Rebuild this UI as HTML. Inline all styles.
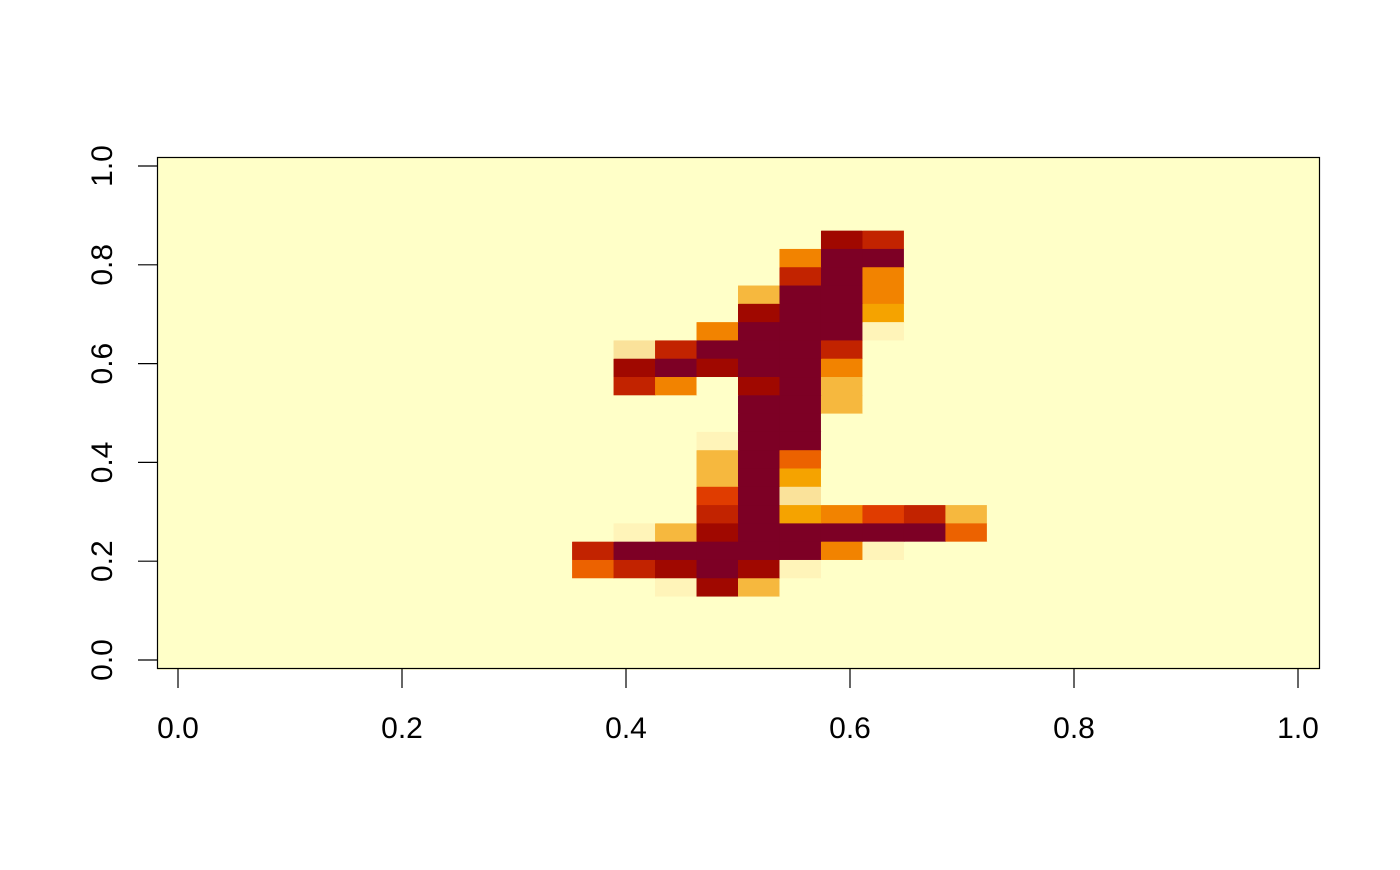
<!DOCTYPE html>
<html><head><meta charset="utf-8"><style>
body{margin:0;background:#fff}
text{font-family:"Liberation Sans",sans-serif;font-size:30px;fill:#000}
</style></head><body>
<svg id="chart" width="1400" height="865" xmlns="http://www.w3.org/2000/svg">
<rect width="1400" height="865" fill="#fff"/>
<g id="cells"></g>
<g id="axes"></g>
</svg>
<script>
// levels a..k -> palette
const palette = {a:"#FFFFC8",b:"#FFF4B9",c:"#FAE29A",d:"#F6B83E",e:"#F5A300",f:"#F28300",g:"#EC6200",h:"#E03C00",i:"#C22300",j:"#A00800",k:"#7D0025"};
const gridSize = 28;
// non-background runs: row index from bottom, starting column, level codes
const rowIndex = [23,22,21,20,19,18,17,16,15,14,13,12,11,10,9,8,7,6,5,4];
const startCol = [16,15,15,14,14,13,11,11,11,14,14,13,13,13,13,13,11,10,10,12];
const rowLevels = ["ji","fkk","ikf","dkkf","jkke","fkkkb","cikkki","jkjkkf","ifajkd","kkd","kk","bkk","dkg","dke","hkc","ikefhid","bdjkkkkkg","ikkkkkfb","gijkjb","bjd"];
const xTicks = [0,0.2,0.4,0.6,0.8,1.0];
const yTicks = [0,0.2,0.4,0.6,0.8,1.0];
const xTickLabels = ["0.0","0.2","0.4","0.6","0.8","1.0"];
const yTickLabels = ["0.0","0.2","0.4","0.6","0.8","1.0"];

const NS="http://www.w3.org/2000/svg";
const X0=178,X1=1298,Y0=660,Y1=166;
const xs=v=>X0+(X1-X0)*v;
const ys=v=>Y0+(Y1-Y0)*v;
const step=1/(gridSize-1);
const cells=document.getElementById('cells');
const axes=document.getElementById('axes');
function mk(tag,attrs,parent){const e=document.createElementNS(NS,tag);for(const k in attrs)e.setAttribute(k,attrs[k]);parent.appendChild(e);return e;}

const grid=[];
for(let r=0;r<gridSize;r++){grid.push(new Array(gridSize).fill('a'));}
rowIndex.forEach((r,n)=>{for(let c=0;c<rowLevels[n].length;c++)grid[r][startCol[n]+c]=rowLevels[n][c];});
for(let r=0;r<gridSize;r++){for(let c=0;c<gridSize;c++){
  const xa=xs(c*step-step/2),xb=xs(c*step+step/2),ya=ys(r*step+step/2),yb=ys(r*step-step/2);
  const el=mk('rect',{x:xa,y:ya,width:xb-xa+0.6,height:yb-ya+0.6,fill:palette[grid[r][c]]},cells);
  
  
}}
const box=mk('rect',{x:157.5,y:157.5,width:1162,height:511,fill:'none',stroke:'#000','stroke-width':1.2},axes);


xTicks.forEach((v,n)=>{
  const t=mk('line',{x1:xs(v),x2:xs(v),y1:669,y2:688,stroke:'#000','stroke-width':1.2},axes);
  
  
  const l=mk('text',{x:xs(v),y:738,'text-anchor':'middle'},axes);l.textContent=xTickLabels[n];
  
  
});
yTicks.forEach((v,n)=>{
  const t=mk('line',{x1:138,x2:157.5,y1:ys(v),y2:ys(v),stroke:'#000','stroke-width':1.2},axes);
  
  
  const l=mk('text',{x:0,y:0,'text-anchor':'middle',transform:`translate(112,${ys(v)}) rotate(-90)`},axes);l.textContent=yTickLabels[n];
  
  
});
</script>
</body></html>
